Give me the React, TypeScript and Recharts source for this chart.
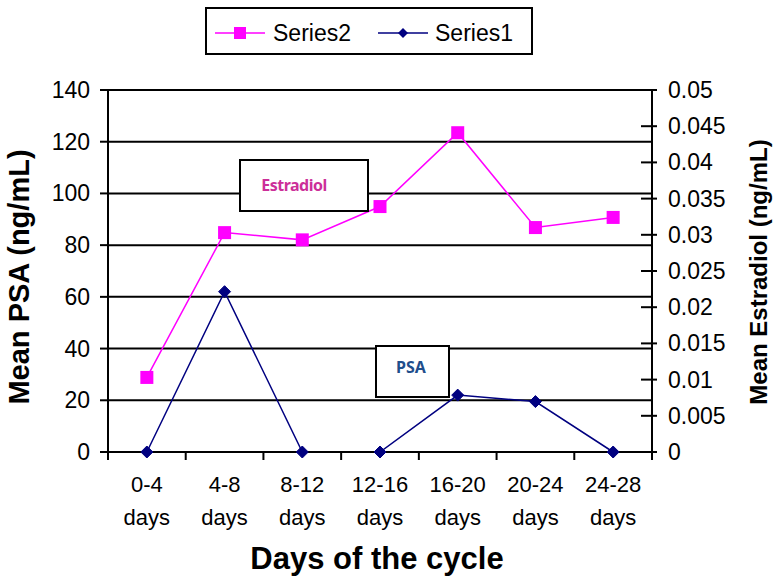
import React from 'react';
import { LineChart, Line, XAxis, YAxis, CartesianGrid } from 'recharts';

const rangeLabels = ['0-4', '4-8', '8-12', '12-16', '16-20', '20-24', '24-28'];
const unitLabel = 'days';
const psaValues = [0, 62, 0, 0, 22, 19.5, 0];
const estradiolValues = [0.0103, 0.0303, 0.0293, 0.0339, 0.0441, 0.031, 0.0324];
const leftTicks = [0, 20, 40, 60, 80, 100, 120, 140];
const rightTicks = [0, 0.005, 0.01, 0.015, 0.02, 0.025, 0.03, 0.035, 0.04, 0.045, 0.05];

const data = rangeLabels.map((r, i) => ({
  range: r,
  psa: psaValues[i],
  estradiol: estradiolValues[i],
}));

const W = 774;
const H = 576;
const FONT = '"Liberation Sans", Arial, sans-serif';
const MAGENTA = '#ff00ff';
const NAVY = '#000080';
const PLOT_LEFT = 108;
const PLOT_RIGHT = 652;
const AXIS_Y = 452;
const HALF_BAND = (PLOT_RIGHT - PLOT_LEFT) / rangeLabels.length / 2;

const XTick = (props: any) => {
  const { x, payload, index } = props;
  const half = HALF_BAND;
  return (
    <g>
      <line x1={x - half} x2={x - half} y1={AXIS_Y} y2={AXIS_Y + 8} stroke="#000" strokeWidth={2} />
      {index === rangeLabels.length - 1 && (
        <line x1={x + half} x2={x + half} y1={AXIS_Y} y2={AXIS_Y + 8} stroke="#000" strokeWidth={2} />
      )}
      <text x={x} y={492} textAnchor="middle" fontSize={22} fontFamily={FONT} fill="#000">
        {payload.value}
      </text>
      <text x={x} y={525} textAnchor="middle" fontSize={22} fontFamily={FONT} fill="#000">
        {unitLabel}
      </text>
    </g>
  );
};

const LeftTick = (props: any) => {
  const { y, payload } = props;
  return (
    <g>
      <line x1={PLOT_LEFT - 8} x2={PLOT_LEFT} y1={y} y2={y} stroke="#000" strokeWidth={2} />
      <text x={90} y={y + 8} textAnchor="end" fontSize={23} fontFamily={FONT} fill="#000">
        {payload.value}
      </text>
    </g>
  );
};

const RightTick = (props: any) => {
  const { y, payload } = props;
  return (
    <g>
      <line x1={PLOT_RIGHT - 11} x2={PLOT_RIGHT + 5} y1={y} y2={y} stroke="#000" strokeWidth={2} />
      <text x={668} y={y + 8} textAnchor="start" fontSize={23} fontFamily={FONT} fill="#000">
        {String(payload.value)}
      </text>
    </g>
  );
};

const SquareDot = (props: any) => {
  const { cx, cy } = props;
  if (cx == null || cy == null) return null;
  return <rect x={cx - 6.5} y={cy - 6.5} width={13} height={13} fill={MAGENTA} />;
};

const DiamondDot = (props: any) => {
  const { cx, cy } = props;
  if (cx == null || cy == null) return null;
  return (
    <polygon
      points={`${cx},${cy - 6} ${cx + 6},${cy} ${cx},${cy + 6} ${cx - 6},${cy}`}
      fill={NAVY}
      stroke={NAVY}
      strokeWidth={1}
    />
  );
};

export default function App() {
  return (
    <div style={{ position: 'absolute', left: 0, top: 0, width: W, height: H, background: '#fff' }}>
      <LineChart width={W} height={H} data={data} margin={{ top: 90, right: 0, bottom: 0, left: 0 }}>
        <CartesianGrid yAxisId="left" vertical={false} horizontal stroke="#000" strokeWidth={2} />
        <XAxis
          dataKey="range"
          height={124}
          padding={{ left: HALF_BAND, right: HALF_BAND }}
          axisLine={{ stroke: '#000', strokeWidth: 2 }}
          tickLine={false}
          tick={<XTick />}
          interval={0}
        />
        <YAxis
          yAxisId="left"
          orientation="left"
          width={108}
          domain={[0, 140]}
          ticks={leftTicks}
          axisLine={{ stroke: '#000', strokeWidth: 2 }}
          tickLine={false}
          tick={<LeftTick />}
          interval={0}
        />
        <YAxis
          yAxisId="right"
          orientation="right"
          width={122}
          domain={[0, 0.05]}
          ticks={rightTicks}
          axisLine={{ stroke: '#000', strokeWidth: 2 }}
          tickLine={false}
          tick={<RightTick />}
          interval={0}
        />
        <Line
          yAxisId="right"
          type="linear"
          dataKey="estradiol"
          name="Series2"
          stroke={MAGENTA}
          strokeWidth={1.5}
          dot={<SquareDot />}
          activeDot={false}
          isAnimationActive={false}
        />
        <Line
          yAxisId="left"
          type="linear"
          dataKey="psa"
          name="Series1"
          stroke={NAVY}
          strokeWidth={1.5}
          dot={<DiamondDot />}
          activeDot={false}
          isAnimationActive={false}
        />
      </LineChart>
      <svg
        width={W}
        height={H}
        style={{ position: 'absolute', left: 0, top: 0, pointerEvents: 'none' }}
        fontFamily={FONT}
      >
        {/* Legend */}
        <rect x={206} y={8} width={326} height={46} fill="#fff" stroke="#000" strokeWidth={2} />
        <line x1={215} x2={265} y1={33} y2={33} stroke={MAGENTA} strokeWidth={1.5} />
        <rect x={234} y={27} width={12} height={12} fill={MAGENTA} />
        <text x={273} y={41} fontSize={23} fill="#000">Series2</text>
        <line x1={378} x2={428} y1={33} y2={33} stroke={NAVY} strokeWidth={1.5} />
        <polygon points="403,28 408,33 403,38 398,33" fill={NAVY} />
        <text x={435} y={41} fontSize={23} fill="#000">Series1</text>

        {/* Axis titles */}
        <text
          x={29}
          y={277}
          transform="rotate(-90 29 277)"
          textAnchor="middle"
          fontSize={29}
          fontWeight="bold"
          fill="#000"
        >
          Mean PSA (ng/mL)
        </text>
        <text
          x={767}
          y={272}
          transform="rotate(-90 767 272)"
          textAnchor="middle"
          fontSize={24}
          fontWeight="bold"
          fill="#000"
        >
          Mean Estradiol (ng/mL)
        </text>
        <text x={377} y={569} textAnchor="middle" fontSize={31} fontWeight="bold" fill="#000">
          Days of the cycle
        </text>

        {/* Annotation boxes */}
        <rect x={240} y={160} width={128} height={51} fill="#fff" stroke="#000" strokeWidth={2} />
        <text
          x={294}
          y={191}
          textAnchor="middle"
          fontSize={16}
          fontWeight="bold"
          fontFamily='"Noto Sans", sans-serif'
          fill="#cc2f99"
          letterSpacing={-0.5}
        >
          Estradiol
        </text>
        <rect x={376} y={346} width={73} height={51} fill="#fff" stroke="#000" strokeWidth={2} />
        <text
          x={411}
          y={373}
          textAnchor="middle"
          fontSize={16}
          fontWeight="bold"
          fontFamily='"Noto Sans", sans-serif'
          fill="#1f4e8c"
        >
          PSA
        </text>
      </svg>
    </div>
  );
}
